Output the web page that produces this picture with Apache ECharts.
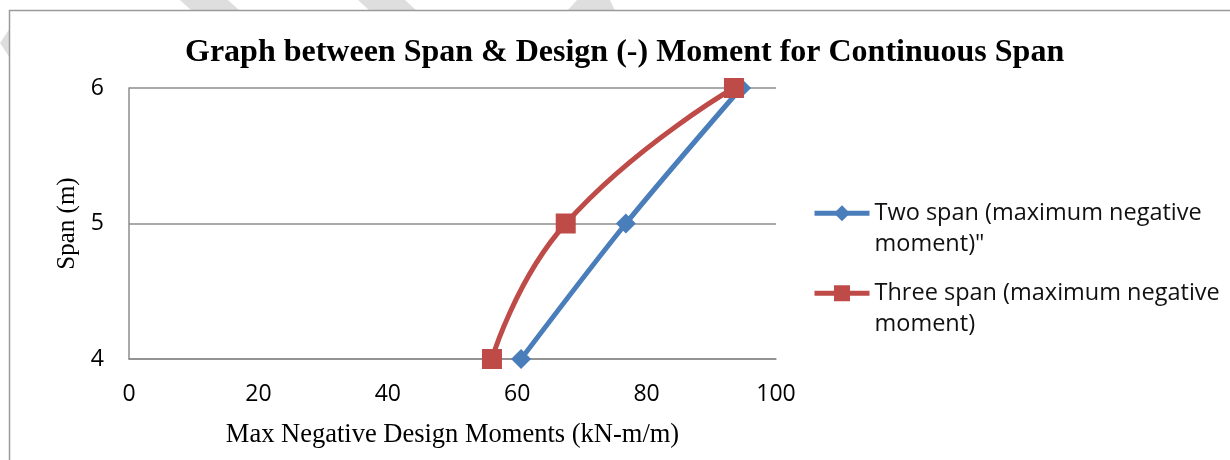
<!DOCTYPE html>
<html>
<head>
<meta charset="utf-8">
<script src="https://cdn.jsdelivr.net/npm/echarts@6/dist/echarts.min.js"></script>
<style>
  html, body { margin: 0; padding: 0; background: #fff; }
  #wrap { position: relative; width: 1230px; height: 460px; }
  #main { position: absolute; left: 0; top: 0; width: 1230px; height: 460px; }
  .stripe { position: absolute; background: #dedede; }
  #s1 { left: 180px; top: 0; width: 60px; height: 11px; clip-path: polygon(0 0, 48px 0, 60px 11px, 12px 11px); }
  #s2 { left: 358px; top: 0; width: 60px; height: 11px; clip-path: polygon(0 0, 47px 0, 59px 11px, 12px 11px); }
  #s3 { left: 567px; top: 0; width: 48px; height: 11px; clip-path: polygon(10px 0, 43px 0, 48px 11px, 0 11px); }
  #s4 { left: 0; top: 28px; width: 10px; height: 30px; clip-path: polygon(0 15px, 10px 0, 10px 30px); }
</style>
</head>
<body>
<div id="wrap">
  <div class="stripe" id="s1"></div>
  <div class="stripe" id="s2"></div>
  <div class="stripe" id="s3"></div>
  <div class="stripe" id="s4"></div>
  <div id="main"></div>
</div>
<script>
var dom = document.getElementById('main');
var myChart = echarts.init(dom);

// spans (m) and max negative design moments (kN-m/m)
var spans = [4, 5, 6];
var twoSpanMoments = [60.6, 76.8, 94.6];
var threeSpanMoments = [56.1, 67.5, 93.5];
var xTicks = [0, 20, 40, 60, 80, 100];
var yTicks = [4, 5, 6];

var seriesNames = ['Two span (maximum negative\nmoment)"', 'Three span (maximum negative\nmoment)'];

function pairs(xs, ys) {
    var out = [];
    for (var i = 0; i < xs.length; i++) {
        out.push([xs[i], ys[i]]);
    }
    return out;
}

// leading blank line keeps the icon level with the first text line
function legendLabel(name) {
    return '\n' + name;
}

var legendText = {
    fontFamily: '"Open Sans", sans-serif',
    fontSize: 23.5,
    color: '#111',
    lineHeight: 31.5
};

option = {
    backgroundColor: 'transparent',
    animation: false,
    graphic: {
        elements: [
            // chart frame (only its left and top edges fall inside the picture)
            { type: 'rect', z: -10, silent: true, shape: { x: 9.5, y: 10.5, width: 1300, height: 500 },
              style: { fill: '#fff', stroke: '#9a9a9a', lineWidth: 1.5 } }
        ]
    },
    title: {
        text: 'Graph between Span & Design (-) Moment for Continuous Span',
        left: 180,
        top: 32,
        textStyle: {
            fontFamily: '"Liberation Serif", serif',
            fontWeight: 'bold',
            fontSize: 32,
            color: '#000'
        }
    },
    legend: [{
        data: [seriesNames[0]],
        orient: 'vertical',
        left: 807,
        top: 161,
        itemWidth: 55,
        itemHeight: 20,
        formatter: legendLabel,
        lineStyle: { width: 5 },
        textStyle: legendText
    }, {
        data: [seriesNames[1]],
        orient: 'vertical',
        left: 807,
        top: 241,
        itemWidth: 55,
        itemHeight: 20,
        formatter: legendLabel,
        lineStyle: { width: 5 },
        textStyle: legendText
    }],
    grid: {
        left: 129,
        right: 454,
        top: 88,
        bottom: 101
    },
    xAxis: {
        type: 'value',
        min: xTicks[0],
        max: xTicks[xTicks.length - 1],
        interval: 20,
        name: 'Max Negative Design Moments (kN-m/m)',
        nameLocation: 'middle',
        nameGap: 63,
        nameTextStyle: {
            fontFamily: '"Liberation Serif", serif',
            fontSize: 26.5,
            color: '#000'
        },
        axisLine: { show: true, lineStyle: { color: '#8c8c8c', width: 1.5 } },
        axisTick: { show: false },
        splitLine: { show: false },
        axisLabel: {
            margin: 24,
            fontFamily: '"Open Sans", sans-serif',
            fontSize: 23,
            color: '#000'
        }
    },
    yAxis: {
        type: 'value',
        min: yTicks[0],
        max: yTicks[yTicks.length - 1],
        interval: 1,
        name: 'Span (m)',
        nameLocation: 'middle',
        nameGap: 48,
        nameTextStyle: {
            fontFamily: '"Liberation Serif", serif',
            fontSize: 25,
            color: '#000'
        },
        axisLine: { show: true, lineStyle: { color: '#8c8c8c', width: 1.5 } },
        axisTick: { show: false },
        splitLine: { show: true, lineStyle: { color: '#8c8c8c', width: 1.5 } },
        axisLabel: {
            margin: 25,
            fontFamily: '"Open Sans", sans-serif',
            fontSize: 23,
            color: '#000'
        }
    },
    series: [{
        name: seriesNames[0],
        type: 'line',
        smooth: 0.3,
        data: pairs(twoSpanMoments, spans),
        symbol: 'diamond',
        symbolSize: 20,
        lineStyle: { color: '#4a7ebb', width: 5 },
        itemStyle: { color: '#4a7ebb' },
        z: 3
    }, {
        name: seriesNames[1],
        type: 'line',
        smooth: 0.5,
        data: pairs(threeSpanMoments, spans),
        symbol: 'rect',
        symbolSize: 20,
        lineStyle: { color: '#be4b48', width: 5 },
        itemStyle: { color: '#be4b48' },
        z: 4
    }]
};

myChart.setOption(option);
</script>
</body>
</html>
